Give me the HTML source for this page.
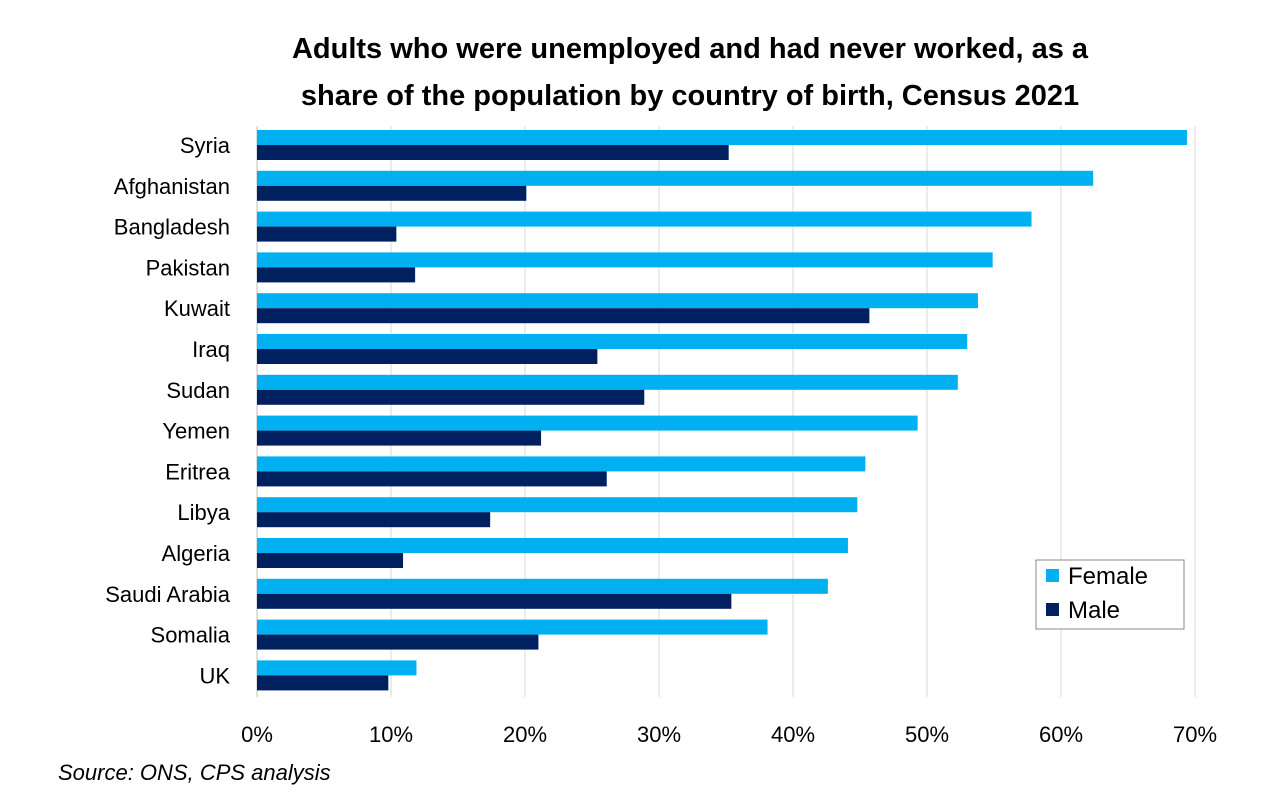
<!DOCTYPE html>
<html><head><meta charset="utf-8"><style>
body{margin:0;background:#fff;font-family:"Liberation Sans",sans-serif;}
</style></head><body>
<svg width="1278" height="807" xmlns="http://www.w3.org/2000/svg">
<text x="690" y="58" text-anchor="middle" font-size="29" font-weight="bold" fill="#000">Adults who were unemployed and had never worked, as a</text>
<text x="690" y="105" text-anchor="middle" font-size="29" font-weight="bold" fill="#000">share of the population by country of birth, Census 2021</text>
<g id="grid"></g>
<g id="bars"></g>
<g id="labels"></g>
<g id="xticks"></g>
<text x="58" y="780" font-size="22" font-style="italic" fill="#000">Source: ONS, CPS analysis</text>
<g>
<rect x="1036" y="560" width="148" height="69" fill="#fff" stroke="#888" stroke-width="1"/>
<rect x="1046" y="569" width="13" height="13" fill="#00B0F0"/>
<text x="1068" y="584" font-size="24">Female</text>
<rect x="1046" y="603" width="13" height="13" fill="#002060"/>
<text x="1068" y="618" font-size="24">Male</text>
</g>
</svg>
<script>
const categories=["Syria","Afghanistan","Bangladesh","Pakistan","Kuwait","Iraq","Sudan","Yemen","Eritrea","Libya","Algeria","Saudi Arabia","Somalia","UK"];
const femaleValues=[69.4,62.4,57.8,54.9,53.8,53.0,52.3,49.3,45.4,44.8,44.1,42.6,38.1,11.9];
const maleValues=[35.2,20.1,10.4,11.8,45.7,25.4,28.9,21.2,26.1,17.4,10.9,35.4,21.0,9.8];
const tickValues=[0,10,20,30,40,50,60,70];
const tickLabels=["0%","10%","20%","30%","40%","50%","60%","70%"];
const NS="http://www.w3.org/2000/svg";
const x0=257,pxPer=13.4,plotTop=126,rowH=40.8,barH=15;
const xs=v=>x0+v*pxPer;
const rowY=i=>plotTop+i*rowH;
function mk(tag,attrs,parent){const e=document.createElementNS(NS,tag);for(const k in attrs)e.setAttribute(k,attrs[k]);document.getElementById(parent).appendChild(e);return e;}
tickValues.forEach((v,i)=>{
  if(i>0){const l=mk('line',{x1:xs(v),x2:xs(v),y1:plotTop,y2:plotTop+rowH*categories.length,stroke:'#d9d9d9','stroke-width':1},'grid');
  
  }
  const t=mk('text',{x:xs(v),y:742,'text-anchor':'middle','font-size':22,fill:'#000'},'xticks');
  t.textContent=tickLabels[i];
  
  
});
const ax=mk('line',{x1:x0,x2:x0,y1:plotTop,y2:plotTop+rowH*categories.length,stroke:'#bfbfbf','stroke-width':1},'grid');


categories.forEach((c,i)=>{
  const y=rowY(i)+4;
  const f=mk('rect',{x:x0,y:y,width:xs(femaleValues[i])-x0,height:barH,fill:'#00B0F0'},'bars');
  
  
  const m=mk('rect',{x:x0,y:y+barH,width:xs(maleValues[i])-x0,height:barH,fill:'#002060'},'bars');
  
  
  const t=mk('text',{x:230,y:y+barH+8,'text-anchor':'end','font-size':22,fill:'#000'},'labels');
  t.textContent=c;
  
  
});
</script>
</body></html>
